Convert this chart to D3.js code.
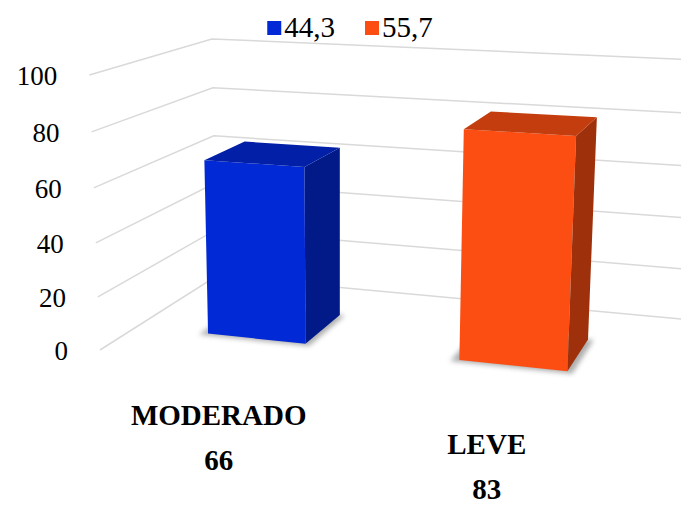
<!DOCTYPE html>
<html lang="es">
  <head>
    <meta charset="UTF-8" />
    <title>Barras 3D</title>
    <script src="https://d3js.org/d3.v7.min.js"></script>
    <style>
      body { margin: 0; background: #fff; }
      .grid { stroke: #d9d9d9; stroke-width: 1.5; fill: none; }
      text { fill: #000; }
      .tick-label { font-size: 27px; }
      .cat-label { font-size: 29px; font-weight: bold; }
      .legend text { font-size: 29px; }
    </style>
  </head>
  <body>
    <svg width="681" height="506"></svg>
    <script>
      const categories = ["MODERADO", "LEVE"];
      const values = [66, 83];
      const legendLabels = ["44,3", "55,7"];
      const yTicks = [0, 20, 40, 60, 80, 100];
      const colors = ["#0229d6", "#fc4e12"];

      const width = 681;
      const height = 506;
      // no Times on the box, this falls back to the sans face
      const font = "'Liberation Serif', 'Times New Roman', 'Liberation Sans', sans-serif";

      // simple pinhole camera for the 3d look
      const focal = 1630;
      const pp = [340, 253];
      const yaw = (18.9 * Math.PI) / 180;
      const pitch = (14.5 * Math.PI) / 180;
      const camDist = 1000;
      const anchor = [216.5, 276]; // where the back-left floor corner lands

      const wallW = 281.7; // back wall length (world units)
      const wallH = 145.3; // height of value 100
      const wallD = 155.8; // side wall depth

      const ex = [Math.cos(yaw), Math.sin(yaw) * Math.sin(pitch), -Math.sin(yaw) * Math.cos(pitch)];
      const eu = [0, -Math.cos(pitch), -Math.sin(pitch)];
      const ein = [Math.sin(yaw), -Math.cos(yaw) * Math.sin(pitch), Math.cos(yaw) * Math.cos(pitch)];
      const origin = [
        (camDist * (anchor[0] - pp[0])) / focal,
        (camDist * (anchor[1] - pp[1])) / focal,
        camDist,
      ];

      // x along back wall, y up, z toward the viewer
      function project(x, y, z) {
        const c = [0, 1, 2].map((i) => origin[i] + x * ex[i] + y * eu[i] - z * ein[i]);
        return [pp[0] + (focal * c[0]) / c[2], pp[1] + (focal * c[1]) / c[2]];
      }

      const svg = d3.select("svg").attr("width", width).attr("height", height);

      const xScale = d3
        .scaleBand()
        .domain(categories)
        .range([0, wallW])
        .paddingInner(0.6)
        .paddingOuter(0.3);

      const yScale = d3.scaleLinear().domain([0, 100]).range([0, wallH]);

      const bw = xScale.bandwidth();
      const zFront = wallD * 0.53 + bw / 2;
      const zBack = zFront - bw;

      const line = d3.line();

      // gridlines: side wall then back wall
      svg
        .append("g")
        .selectAll("path")
        .data(yTicks)
        .enter()
        .append("path")
        .attr("class", "grid")
        .attr("d", (v) => {
          const y = yScale(v);
          return line([project(0, y, wallD), project(0, y, 0), project(wallW + 20, y, 0)]);
        });

      // y labels next to the front edge of the side wall
      svg
        .append("g")
        .selectAll("text")
        .data(yTicks)
        .enter()
        .append("text")
        .attr("class", "tick-label")
        .attr("font-family", font)
        .attr("text-anchor", "end")
        .attr("dominant-baseline", "central")
        .attr("x", (v) => project(0, yScale(v), wallD)[0] - 32)
        .attr("y", (v) => project(0, yScale(v), wallD)[1] + 1)
        .text((v) => v);

      // soft shadow filter
      const defs = svg.append("defs");
      defs
        .append("filter")
        .attr("id", "shadow")
        .attr("x", "-20%")
        .attr("y", "-20%")
        .attr("width", "140%")
        .attr("height", "140%")
        .append("feGaussianBlur")
        .attr("stdDeviation", 2.5);

      const bars = categories.map((c, i) => ({
        cat: c,
        value: values[i],
        color: colors[i],
        x0: xScale(c),
        x1: xScale(c) + bw,
        h: yScale(values[i]),
      }));

      const barG = svg
        .append("g")
        .selectAll("g")
        .data(bars)
        .enter()
        .append("g");

      barG
        .append("path")
        .attr("fill", "#777")
        .attr("opacity", 0.6)
        .attr("filter", "url(#shadow)")
        .attr("d", (d) =>
          line([
            project(d.x0 - 4, 0, zFront + 3),
            project(d.x1 + 3, 0, zFront + 3),
            project(d.x1 + 3, 0, zBack),
            project(d.x0 - 4, 0, zBack),
          ]) + "Z"
        );

      // front face
      barG
        .append("path")
        .attr("fill", (d) => d.color)
        .attr("d", (d) =>
          line([
            project(d.x0, 0, zFront),
            project(d.x1, 0, zFront),
            project(d.x1, d.h, zFront),
            project(d.x0, d.h, zFront),
          ]) + "Z"
        );

      // right side
      barG
        .append("path")
        .attr("fill", (d) => d3.color(d.color).darker(1.3))
        .attr("d", (d) =>
          line([
            project(d.x1, 0, zFront),
            project(d.x1, 0, zBack),
            project(d.x1, d.h, zBack),
            project(d.x1, d.h, zFront),
          ]) + "Z"
        );

      // top
      barG
        .append("path")
        .attr("fill", (d) => d3.color(d.color).darker(0.7))
        .attr("d", (d) =>
          line([
            project(d.x0, d.h, zFront),
            project(d.x1, d.h, zFront),
            project(d.x1, d.h, zBack),
            project(d.x0, d.h, zBack),
          ]) + "Z"
        );

      // category labels with their counts
      const labelG = svg
        .append("g")
        .selectAll("g")
        .data(bars)
        .enter()
        .append("g")
        .attr("transform", (d) => {
          const p = project(d.x0 + bw / 2, 0, wallD);
          return `translate(${p[0] - 5}, ${p[1]})`;
        });

      labelG
        .append("text")
        .attr("class", "cat-label")
        .attr("font-family", font)
        .attr("text-anchor", "middle")
        .attr("dominant-baseline", "central")
        .attr("y", 51)
        .text((d) => d.cat);

      labelG
        .append("text")
        .attr("class", "cat-label")
        .attr("font-family", font)
        .attr("text-anchor", "middle")
        .attr("dominant-baseline", "central")
        .attr("y", 96)
        .text((d) => d.value);

      // legend
      const legend = svg.append("g").attr("class", "legend");
      let lx = 0;
      legendLabels.forEach((lab, i) => {
        const item = legend.append("g").attr("transform", `translate(${lx}, 0)`);
        item.append("rect").attr("x", 0).attr("y", -16).attr("width", 14).attr("height", 14).attr("fill", colors[i]);
        const t = item.append("text").attr("font-family", font).attr("x", 17).attr("y", 0).text(lab);
        lx += 17 + t.node().getComputedTextLength() + 30;
      });
      const lw = lx - 30;
      legend.attr("transform", `translate(${350 - lw / 2}, 37)`);
    </script>
  </body>
</html>
